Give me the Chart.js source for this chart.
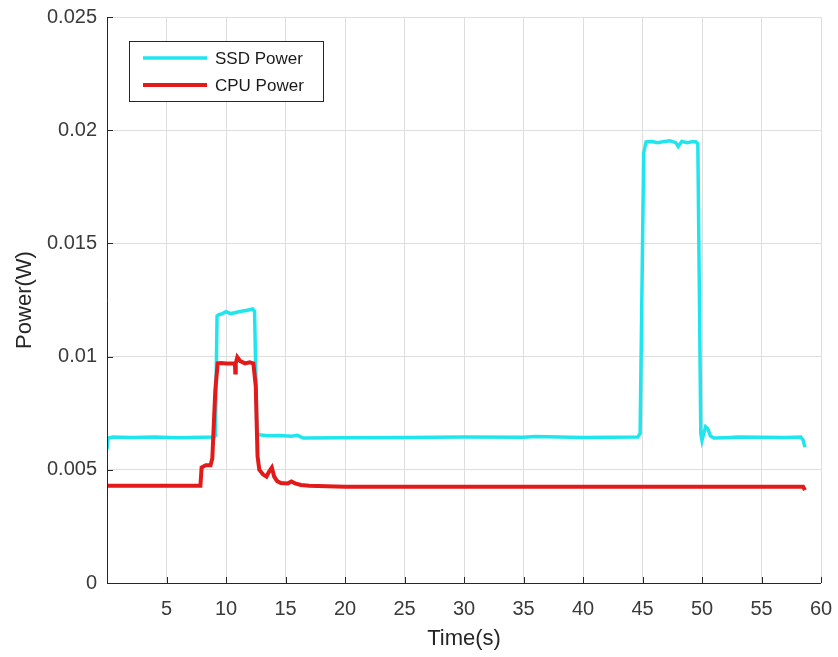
<!DOCTYPE html>
<html>
<head>
<meta charset="utf-8">
<title>Power</title>
<script src="https://cdn.jsdelivr.net/npm/chart.js@4.4.1/dist/chart.umd.min.js"></script>
<style>
  html, body { margin: 0; padding: 0; background: #fff; }
  #wrap { width: 838px; height: 657px; }
</style>
</head>
<body>
<div id="wrap"><canvas id="powerChart" width="838" height="657"></canvas></div>
<script>
// SSD power trace (s, W)
const ssdTime = [0, 0.1, 0.5, 2, 4, 6, 8, 9.0, 9.1, 9.25, 9.4, 9.7, 10.0, 10.4, 10.8, 11.3, 11.8, 12.25, 12.4,
  12.6, 12.8, 13.5, 14.5, 15.5, 16.0, 16.5, 20, 25, 30, 35, 36, 40, 44.6, 44.8, 45.1, 45.3, 45.8, 46.3, 46.8,
  47.3, 47.8, 48.0, 48.3, 48.8, 49.2, 49.5, 49.65, 49.9, 50.0, 50.3, 50.5, 50.7, 51, 52, 53, 55, 57, 58.3, 58.5, 58.65];
const ssdPower = [0.0059, 0.0064, 0.00645, 0.00643, 0.00645, 0.00642, 0.00644, 0.00645, 0.0065, 0.0118, 0.01185,
  0.0119, 0.01198, 0.0119, 0.01195, 0.012, 0.01205, 0.0121, 0.0120,
  0.0066, 0.00655, 0.0065, 0.00652, 0.00648, 0.00652, 0.0064, 0.00642, 0.00643, 0.00645, 0.00644, 0.00647, 0.00643,
  0.00645, 0.0066, 0.0190, 0.01948, 0.0195, 0.01945, 0.0195, 0.01953, 0.01945, 0.01928, 0.0195, 0.01945, 0.0195,
  0.01948, 0.0194, 0.0066, 0.0063, 0.0069, 0.0068, 0.0065, 0.0064, 0.00642, 0.00645, 0.00644, 0.00643, 0.00645,
  0.0063, 0.0060];

// CPU power trace (s, W)
const cpuTime = [0, 2, 4, 6, 7.85, 7.95, 8.3, 8.7, 8.85, 9.1, 9.3, 9.6, 10.0, 10.5, 10.75, 10.78, 10.82, 10.95,
  11.2, 11.6, 12.0, 12.3, 12.5, 12.65, 12.8, 13.1, 13.4, 13.6, 13.85, 14.05, 14.3, 14.6, 15.2, 15.5, 15.8, 16.3,
  17, 20, 25, 30, 35, 40, 45, 50, 55, 58.5, 58.65];
const cpuPower = [0.0043, 0.0043, 0.0043, 0.0043, 0.0043, 0.0051, 0.0052, 0.0052, 0.0055, 0.0085, 0.0097, 0.00972,
  0.0097, 0.0097, 0.0097, 0.0093, 0.0097, 0.00998, 0.0098, 0.0097, 0.00975, 0.0097, 0.0087, 0.0056, 0.0050,
  0.0048, 0.0047, 0.0049, 0.0051, 0.0047, 0.0045, 0.00442, 0.0044, 0.00448, 0.0044, 0.00433,
  0.0043, 0.00425, 0.00425, 0.00425, 0.00425, 0.00425, 0.00425, 0.00425, 0.00425, 0.00425, 0.0041];

const seriesNames = ['SSD Power', 'CPU Power'];
const xTicks = [0, 5, 10, 15, 20, 25, 30, 35, 40, 45, 50, 55, 60];
const yTicks = [0, 0.005, 0.01, 0.015, 0.02, 0.025];

const axisColor = '#262626';
const textColor = '#3a3a3a';

function toPoints(xs, ys) {
  return xs.map((x, i) => ({ x: x, y: ys[i] }));
}

// axis lines with short inward tick marks
const innerTicks = {
  id: 'innerTicks',
  afterDatasetsDraw(chart) {
    const ctx = chart.ctx;
    const a = chart.chartArea;
    const xs = chart.scales.x;
    const ys = chart.scales.y;
    ctx.save();
    ctx.strokeStyle = axisColor;
    ctx.lineWidth = 1;
    ctx.beginPath();
    ctx.moveTo(a.left + 0.5, a.top);
    ctx.lineTo(a.left + 0.5, a.bottom + 0.5);
    ctx.lineTo(a.right, a.bottom + 0.5);
    xTicks.forEach(v => {
      const px = Math.round(xs.getPixelForValue(v)) + 0.5;
      ctx.moveTo(px, a.bottom);
      ctx.lineTo(px, a.bottom - 6);
    });
    yTicks.forEach(v => {
      const py = Math.round(ys.getPixelForValue(v)) + 0.5;
      ctx.moveTo(a.left, py);
      ctx.lineTo(a.left + 6, py);
    });
    ctx.stroke();
    ctx.restore();
  }
};

// boxed legend inside the plot, top left
const boxLegend = {
  id: 'boxLegend',
  afterDraw(chart) {
    const ctx = chart.ctx;
    const x0 = 129, y0 = 41, w = 194, h = 60;
    ctx.save();
    ctx.fillStyle = '#fff';
    ctx.fillRect(x0, y0, w, h);
    ctx.strokeStyle = axisColor;
    ctx.lineWidth = 1;
    ctx.strokeRect(x0 + 0.5, y0 + 0.5, w, h);
    ctx.font = '17px "Liberation Sans", Arial, sans-serif';
    ctx.textBaseline = 'middle';
    chart.data.datasets.forEach((ds, i) => {
      const y = y0 + 17 + i * 27;
      ctx.strokeStyle = ds.borderColor;
      ctx.lineWidth = ds.borderWidth;
      ctx.beginPath();
      ctx.moveTo(x0 + 14, y);
      ctx.lineTo(x0 + 78, y);
      ctx.stroke();
      ctx.fillStyle = '#1a1a1a';
      ctx.fillText(ds.label, x0 + 86, y + 1);
    });
    ctx.restore();
  }
};

new Chart(document.getElementById('powerChart'), {
  type: 'line',
  data: {
    datasets: [{
      label: seriesNames[0],
      data: toPoints(ssdTime, ssdPower),
      borderColor: '#1fe6ee',
      borderWidth: 3.5,
      pointRadius: 0,
      tension: 0,
      order: 1
    }, {
      label: seriesNames[1],
      data: toPoints(cpuTime, cpuPower),
      borderColor: '#e31a1a',
      borderWidth: 4,
      pointRadius: 0,
      tension: 0,
      order: 0
    }]
  },
  options: {
    responsive: false,
    animation: false,
    layout: { padding: { left: 0, top: 17, right: 17, bottom: 0 } },
    plugins: {
      legend: { display: false },
      tooltip: { enabled: false }
    },
    scales: {
      x: {
        type: 'linear',
        min: 0,
        max: 60,
        afterBuildTicks: scale => { scale.ticks = xTicks.map(v => ({ value: v })); },
        afterFit: scale => {
          scale.height = 74;
          scale.paddingLeft = 0;
          scale.paddingRight = 0;
        },
        grid: { color: '#dedede', drawTicks: false },
        border: { display: false },
        ticks: {
          padding: 14,
          color: textColor,
          font: { family: '"Liberation Sans", Arial, sans-serif', size: 20 },
          maxRotation: 0,
          callback: v => (v === 0 ? '' : String(v))
        },
        title: {
          display: true,
          text: 'Time(s)',
          color: '#262626',
          font: { family: '"Liberation Sans", Arial, sans-serif', size: 22 },
          padding: { top: 0, bottom: 5 }
        }
      },
      y: {
        min: 0,
        max: 0.025,
        afterBuildTicks: scale => { scale.ticks = yTicks.map(v => ({ value: v })); },
        afterFit: scale => {
          scale.width = 107;
          scale.paddingTop = 0;
          scale.paddingBottom = 0;
        },
        grid: { color: '#dedede', drawTicks: false },
        border: { display: false },
        ticks: {
          padding: 10,
          color: textColor,
          font: { family: '"Liberation Sans", Arial, sans-serif', size: 20 },
          callback: v => String(v)
        },
        title: {
          display: true,
          text: 'Power(W)',
          color: '#262626',
          font: { family: '"Liberation Sans", Arial, sans-serif', size: 22 },
          padding: { top: 12, bottom: 0 }
        }
      }
    }
  },
  plugins: [innerTicks, boxLegend]
});
</script>
</body>
</html>
